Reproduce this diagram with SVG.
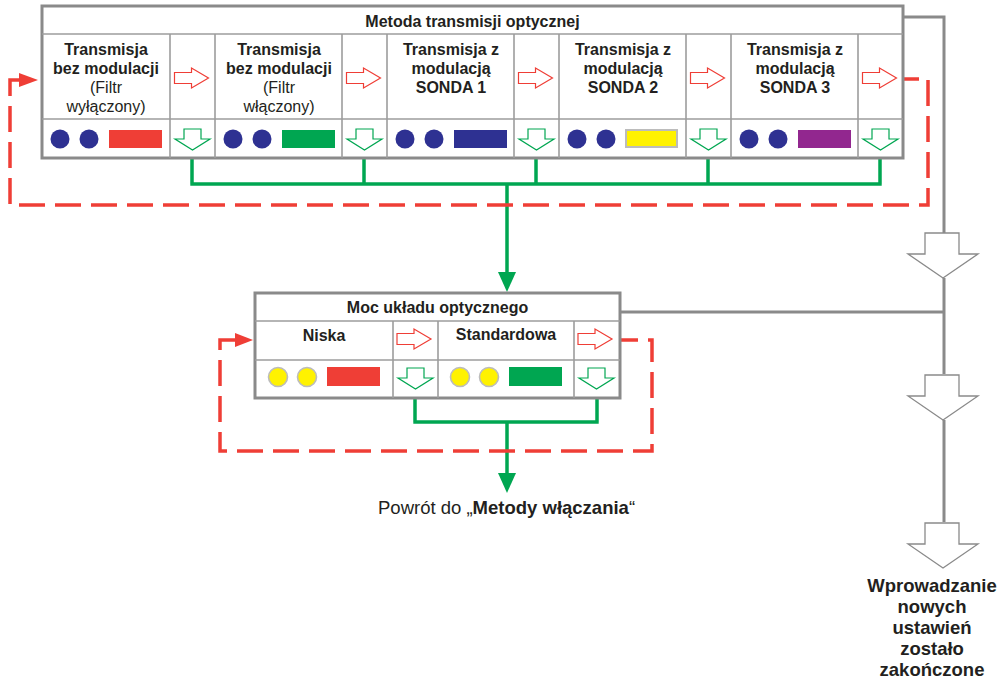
<svg xmlns="http://www.w3.org/2000/svg" xmlns:xlink="http://www.w3.org/1999/xlink" width="1000" height="687" viewBox="0 0 1000 687">
<style>
text{font-family:"Liberation Sans",Arial,sans-serif;fill:#231f20;}
.b{font-weight:bold;font-size:16px;text-anchor:middle;}
.r{font-size:16px;text-anchor:middle;}
.outer{fill:#fff;stroke:#8a8a8a;stroke-width:3;}
.grid{stroke:#9d9d9d;stroke-width:1.6;fill:none;}
.ra{fill:#fff;stroke:#ef3e36;stroke-width:1.2;}
.ga{fill:#fff;stroke:#00a651;stroke-width:1.2;}
.gy{fill:#fff;stroke:#8a8a8a;stroke-width:1.3;}
.navy{fill:#2e3192;}
.yc{fill:#fff200;stroke:#bcbcbc;stroke-width:1.6;}
.gl{fill:none;stroke:#00a651;stroke-width:3.5;}
.rl{fill:none;stroke:#ef3e36;stroke-width:3.5;stroke-dasharray:26 10;}
.gr{fill:none;stroke:#8a8a8a;stroke-width:3;}
</style>
<defs>
<path id="redArrow" d="M0,-5.5 H17 V-10 L34,0 L17,10 V5.5 H0 Z"/>
<path id="greenArrow" d="M9,0 H26 V10 H35 L17.5,21 L0,10 H9 Z"/>
<path id="grayArrow" d="M17,0 H51 V21 H70 L35,45 L0,21 H17 Z"/>
</defs>

<g id="connectors">
<path class="gl" d="M192,158 V184 M364,158 V184 M536,158 V184 M708,158 V184 M880,158 V184 M190.3,184 H881.7 M507,184 V274"/>
<polygon points="498,272 516,272 507,292" fill="#00a651"/>
<path class="gl" d="M415,398 V422 M597,398 V422 M413.3,422 H598.7 M507,422 V475"/>
<polygon points="498,473 516,473 507,493" fill="#00a651"/>
<path class="rl" d="M20,80 H10 V205 H928 V79 H904"/>
<polygon points="19,73 38,80 19,87" fill="#ef3e36"/>
<path class="rl" d="M236,340 H220 V451 H652 V340 H621"/>
<polygon points="235,333 253,340 235,347" fill="#ef3e36"/>
<path class="gr" d="M904,17 H944 V233 M944,278 V374 M944,420 V522 M621,312 H944"/>
<use xlink:href="#grayArrow" class="gy" x="908" y="233"/>
<use xlink:href="#grayArrow" class="gy" x="908" y="375"/>
<use xlink:href="#grayArrow" class="gy" x="908" y="523"/>
</g>

<g id="node-metoda">
<rect class="outer" x="42" y="6" width="861" height="152"/>
<path class="grid" d="M42,34 H903 M42,119 H903 M170,34 V158 M215,34 V158 M342,34 V158 M387,34 V158 M514,34 V158 M559,34 V158 M686,34 V158 M731,34 V158 M858,34 V158"/>
<text class="b" x="472.5" y="27">Metoda transmisji optycznej</text>
</g>

<g id="node-bez-mod-wyl">
<text class="b" x="106" y="55">Transmisja</text>
<text class="b" x="106" y="74">bez modulacji</text>
<text class="r" x="106" y="93">(Filtr</text>
<text class="r" x="106" y="112">wyłączony)</text>
<circle class="navy" cx="60" cy="139" r="9.5"/>
<circle class="navy" cx="89" cy="139" r="9.5"/>
<rect x="109" y="130" width="53" height="18" fill="#ef3e36"/>
<use xlink:href="#redArrow" class="ra" x="174.5" y="78"/>
<use xlink:href="#greenArrow" class="ga" x="175" y="129"/>
</g>

<g id="node-bez-mod-wl">
<text class="b" x="279" y="55">Transmisja</text>
<text class="b" x="279" y="74">bez modulacji</text>
<text class="r" x="279" y="93">(Filtr</text>
<text class="r" x="279" y="112">włączony)</text>
<circle class="navy" cx="233" cy="139" r="9.5"/>
<circle class="navy" cx="262" cy="139" r="9.5"/>
<rect x="282" y="130" width="53" height="18" fill="#00a651"/>
<use xlink:href="#redArrow" class="ra" x="346.5" y="78"/>
<use xlink:href="#greenArrow" class="ga" x="347" y="129"/>
</g>

<g id="node-sonda1">
<text class="b" x="451" y="55">Transmisja z</text>
<text class="b" x="451" y="74">modulacją</text>
<text class="b" x="451" y="93">SONDA 1</text>
<circle class="navy" cx="405" cy="139" r="9.5"/>
<circle class="navy" cx="434" cy="139" r="9.5"/>
<rect x="454" y="130" width="53" height="18" fill="#2e3192"/>
<use xlink:href="#redArrow" class="ra" x="518.5" y="78"/>
<use xlink:href="#greenArrow" class="ga" x="519" y="129"/>
</g>

<g id="node-sonda2">
<text class="b" x="623" y="55">Transmisja z</text>
<text class="b" x="623" y="74">modulacją</text>
<text class="b" x="623" y="93">SONDA 2</text>
<circle class="navy" cx="577" cy="139" r="9.5"/>
<circle class="navy" cx="606" cy="139" r="9.5"/>
<rect x="626" y="130" width="51" height="17" fill="#fff200" stroke="#bcbcbc" stroke-width="2"/>
<use xlink:href="#redArrow" class="ra" x="690.5" y="78"/>
<use xlink:href="#greenArrow" class="ga" x="691" y="129"/>
</g>

<g id="node-sonda3">
<text class="b" x="795" y="55">Transmisja z</text>
<text class="b" x="795" y="74">modulacją</text>
<text class="b" x="795" y="93">SONDA 3</text>
<circle class="navy" cx="749" cy="139" r="9.5"/>
<circle class="navy" cx="778" cy="139" r="9.5"/>
<rect x="798" y="130" width="53" height="18" fill="#92278f"/>
<use xlink:href="#redArrow" class="ra" x="862.5" y="78"/>
<use xlink:href="#greenArrow" class="ga" x="863" y="129"/>
</g>

<g id="node-moc">
<rect class="outer" x="255" y="293" width="365" height="105"/>
<path class="grid" d="M255,321 H620 M255,360 H620 M393,321 V398 M438,321 V398 M574,321 V398"/>
<text class="b" x="437.5" y="313">Moc układu optycznego</text>
</g>

<g id="node-niska">
<text class="b" x="324" y="341">Niska</text>
<circle class="yc" cx="278" cy="377" r="9.5"/>
<circle class="yc" cx="307" cy="377" r="9.5"/>
<rect x="327" y="367" width="53" height="19" fill="#ef3e36"/>
<use xlink:href="#redArrow" class="ra" x="397" y="339"/>
<use xlink:href="#greenArrow" class="ga" x="398" y="368"/>
</g>

<g id="node-standardowa">
<text class="b" x="506" y="340">Standardowa</text>
<circle class="yc" cx="460" cy="377" r="9.5"/>
<circle class="yc" cx="489" cy="377" r="9.5"/>
<rect x="509" y="367" width="53" height="19" fill="#00a651"/>
<use xlink:href="#redArrow" class="ra" x="578" y="339"/>
<use xlink:href="#greenArrow" class="ga" x="579" y="368"/>
</g>

<g id="node-powrot">
<text x="378" y="514" font-size="18.5">Powrót do „<tspan font-weight="bold">Metody włączania</tspan>“</text>
</g>

<g id="node-koniec">
<text x="932" y="592" font-size="18.5" font-weight="bold" text-anchor="middle">Wprowadzanie</text>
<text x="932" y="613" font-size="18.5" font-weight="bold" text-anchor="middle">nowych</text>
<text x="932" y="634" font-size="18.5" font-weight="bold" text-anchor="middle">ustawień</text>
<text x="932" y="655" font-size="18.5" font-weight="bold" text-anchor="middle">zostało</text>
<text x="932" y="676" font-size="18.5" font-weight="bold" text-anchor="middle">zakończone</text>
</g>
</svg>
